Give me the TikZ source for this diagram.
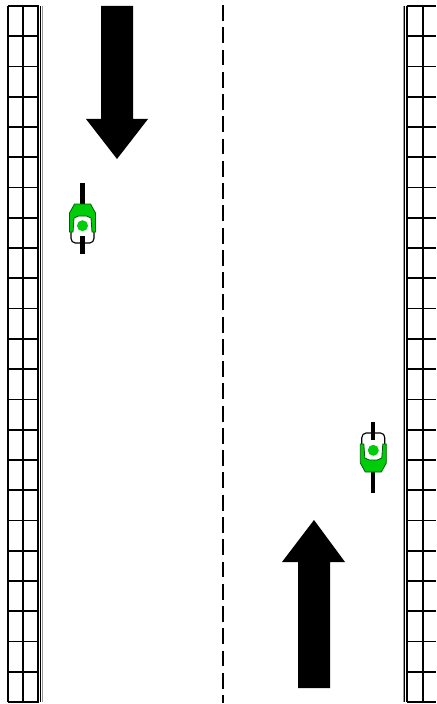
\documentclass[tikz,border=0pt]{standalone}
\usetikzlibrary{math}
\definecolor{bikegreen}{RGB}{0,205,10}

\begin{document}
\begin{tikzpicture}[x=0.03cm,y=-0.03cm]

\tikzmath{
\T = 6;%top of the road
\B = 702;
\Nc = 23;
\dy = (\B-\T)/\Nc;
}

\useasboundingbox (0,0) rectangle (436,704);

\foreach \i in {0,...,\Nc}{
 \tikzmath{
 \yl = \T+\i*\dy;
 }

 %fence rows
 \draw[line width = 1.5pt] (7.5,\yl) -- (38.5,\yl);
 \draw[line width = 1.5pt] (406.5,\yl) -- (436,\yl);
}

%fence posts
\foreach \xl in {8,23,38,407.3,423}{
 \draw[line width = 1.5pt] (\xl,\T) -- (\xl,\B);
}

%rails
\draw[line width = 1.2pt] (40.6,\T) -- (40.6,\B);
\draw[line width = 1pt, color = gray!80] (42.3,\T) -- (42.3,\B);
\draw[line width = 1pt, color = gray!80] (403.2,\T) -- (403.2,\B);
\draw[line width = 1.2pt] (404.6,\T) -- (404.6,\B);

%centre line
\draw[line width = 1.6pt, dash pattern = on 13.6pt off 5.4pt] (223,5) -- (223,703);

%traffic arrows
\fill (101,6) -- (133,6) -- (133,119) -- (148,119) -- (117,159) -- (86,119) -- (101,119) -- cycle;
\fill (298,688) -- (330,688) -- (330,562) -- (345,562) -- (314,520) -- (282,562) -- (298,562) -- cycle;

%bikes
\foreach \xb/\yb/\s in {82.5/218/1,373.3/458/-1}{
 \begin{scope}[shift={(\xb,\yb)},yscale=\s]
 \draw[line width = 3.6pt] (0,-35) -- (0,-14);
 \draw[line width = 3.6pt] (0,18) -- (0,36);
 \draw[line width = 1pt, fill = white, rounded corners = 1.5] (-11.5,-4) -- (-11.5,22) -- (-9,25) -- (9,25) -- (11.5,22) -- (11.5,-4) -- cycle;
 \draw[line width = 3.6pt] (0,18) -- (0,36);
 \draw[color = black!55!bikegreen, fill = bikegreen, line width = 0.7pt] (-8,-14) -- (8,-14) -- (13,-5) -- (13,14) -- (9.5,14) -- (8.5,0) -- (4,-2) -- (-4,-2) -- (-8.5,0) -- (-9.5,14) -- (-13,14) -- (-13,-5) -- cycle;
 \fill[color = bikegreen] (0,7.7) circle (5.5);
 \end{scope}
}

\end{tikzpicture}
\end{document}
